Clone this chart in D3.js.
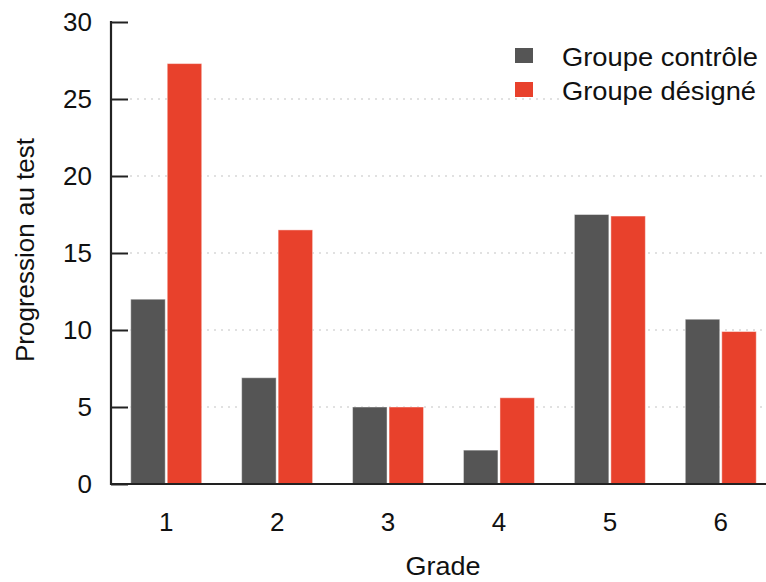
<!DOCTYPE html>
<html>
<head>
<meta charset="utf-8">
<script src="https://cdn.jsdelivr.net/npm/d3@7"></script>
<style>
  html, body { margin: 0; padding: 0; background: #fff; }
  svg { display: block; }
  text { font-family: "Liberation Sans", Arial, Helvetica, sans-serif; fill: #111; }
</style>
</head>
<body>
<svg id="chart" width="766" height="582"></svg>
<script>
const grades = ["1", "2", "3", "4", "5", "6"];
const seriesNames = ["Groupe contrôle", "Groupe désigné"];
const controle = [12.0, 6.9, 5.0, 2.2, 17.5, 10.7];
const designe = [27.3, 16.5, 5.0, 5.6, 17.4, 9.9];
const yTicks = [0, 5, 10, 15, 20, 25, 30];
const colors = ["#555555", "#e8412c"];

const svg = d3.select("#chart");
const W = 766, H = 582;
const mLeft = 111, mTop = 22, mBottom = 484;

const x = d3.scaleBand().domain(grades).range([mLeft, 776]).paddingInner(0.36).paddingOuter(0.178);
const xs = d3.scaleBand().domain(seriesNames).range([0, x.bandwidth()]).paddingInner(0.055);
const y = d3.scaleLinear().domain([0, 30]).range([mBottom, mTop]);

// grid
svg.append("g").selectAll("line").data(yTicks.filter(d => d > 0 && d < 30)).join("line")
  .attr("x1", 130).attr("x2", W)
  .attr("y1", d => y(d)).attr("y2", d => y(d))
  .attr("stroke", "#c4c4c4").attr("stroke-width", 1.2).attr("stroke-dasharray", "2,5");

// bars
const rows = grades.map((g, i) => ({ g, vals: [controle[i], designe[i]] }));
const gg = svg.append("g").selectAll("g").data(rows).join("g")
  .attr("transform", d => `translate(${x(d.g)},0)`);
gg.selectAll("rect").data(d => d.vals.map((v, j) => ({ v, s: seriesNames[j], j }))).join("rect")
  .attr("x", d => xs(d.s)).attr("width", xs.bandwidth())
  .attr("y", d => y(d.v)).attr("height", d => y(0) - y(d.v))
  .attr("fill", d => colors[d.j])
  .attr("stroke", "rgba(255,255,255,0.45)").attr("stroke-width", 1);

// y axis
const yAxis = d3.axisRight(y).tickValues(yTicks).tickSize(17).tickFormat("");
const ya = svg.append("g").attr("transform", `translate(${mLeft},0)`).call(yAxis);
ya.select(".domain").remove();
ya.selectAll(".tick line").attr("stroke", "#222").attr("stroke-width", 2);
svg.append("line").attr("x1", mLeft).attr("x2", mLeft).attr("y1", mTop - 1).attr("y2", mBottom + 1)
  .attr("stroke", "#222").attr("stroke-width", 2.2);
svg.append("g").selectAll("text").data(yTicks).join("text")
  .attr("x", 92).attr("y", d => y(d)).attr("dy", "0.36em")
  .attr("text-anchor", "end").attr("font-size", 26).text(d => d);

// x axis
svg.append("line").attr("x1", mLeft - 1).attr("x2", W).attr("y1", mBottom).attr("y2", mBottom)
  .attr("stroke", "#222").attr("stroke-width", 2.2);
const xAxis = d3.axisBottom(x).tickSize(0).tickPadding(0);
const xa = svg.append("g").attr("transform", `translate(0,${mBottom})`).call(xAxis);
xa.select(".domain").remove();
xa.selectAll(".tick text").attr("y", 47).attr("dy", 0).attr("font-size", 26)
  .attr("font-family", "Liberation Sans, Arial, sans-serif").attr("fill", "#111");

// axis titles
svg.append("text").attr("x", 443).attr("y", 575).attr("text-anchor", "middle")
  .attr("font-size", 26).attr("textLength", 75).attr("lengthAdjust", "spacingAndGlyphs").text("Grade");
svg.append("text").attr("transform", "translate(34,250) rotate(-90)")
  .attr("text-anchor", "middle").attr("font-size", 26).text("Progression au test");

// legend
const leg = svg.append("g");
const legY = [56, 90];
seriesNames.forEach((s, i) => {
  leg.append("rect").attr("x", 515).attr("y", legY[i] - 8).attr("width", 18).attr("height", 15)
    .attr("fill", colors[i]);
  leg.append("text").attr("x", 562).attr("y", legY[i] + 10)
    .attr("font-size", 25).attr("textLength", i === 0 ? 196 : 194)
    .attr("lengthAdjust", "spacingAndGlyphs").text(s);
});
leg.selectAll("text").each(function() {
  const b = this.getBBox();
  leg.insert("rect", "text").attr("x", b.x).attr("y", b.y + 4).attr("width", b.width + 6).attr("height", b.height - 6)
    .attr("fill", "#fff");
});
</script>
</body>
</html>
